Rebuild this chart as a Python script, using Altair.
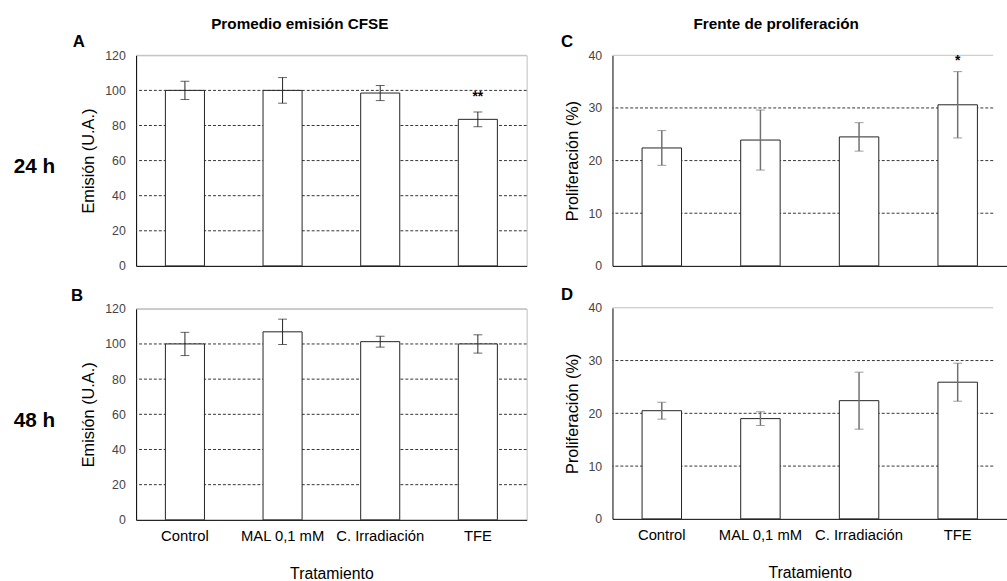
import altair as alt
import pandas as pd

categories = ["Control", "MAL 0,1 mM", "C. Irradiación", "TFE"]

emis_24 = [100, 100, 98.5, 83.5]
emis_24_err = [5.2, 7.3, 4.3, 4.2]
emis_24_sig = ["", "", "", "**"]
emis_24_sig_y = [0, 0, 0, 96]

emis_48 = [100, 106.9, 101.3, 100]
emis_48_err = [6.6, 7.2, 3.1, 5.2]
emis_48_sig = ["", "", "", ""]
emis_48_sig_y = [0, 0, 0, 0]

prol_24 = [22.4, 23.9, 24.5, 30.6]
prol_24_err = [3.3, 5.7, 2.7, 6.3]
prol_24_sig = ["", "", "", "*"]
prol_24_sig_y = [0, 0, 0, 38.9]

prol_48 = [20.5, 19.0, 22.4, 25.9]
prol_48_err = [1.6, 1.3, 5.4, 3.6]
prol_48_sig = ["", "", "", ""]
prol_48_sig_y = [0, 0, 0, 0]

emis_ticks = [0, 20, 40, 60, 80, 100, 120]
prol_ticks = [0, 10, 20, 30, 40]

col_titles = ["Promedio emisión CFSE", "Frente de proliferación"]
row_labels = ["24 h", "48 h"]
letters = ["A", "B", "C", "D"]
x_title = "Tratamiento"
y_titles = ["Emisión (U.A.)", "Proliferación (%)"]

FONT = "Liberation Sans"


def panel(vals, errs, sigs, sig_y, ticks, width, height, xrange, bottom,
          letter, letter_x, row_label, col_title, err_color, err_width,
          ytitle, right_border):
    df = pd.DataFrame({
        "cat": categories,
        "v": vals,
        "lo": [v - e for v, e in zip(vals, errs)],
        "hi": [v + e for v, e in zip(vals, errs)],
        "sig": sigs,
        "sig_y": sig_y,
    })
    caps = pd.DataFrame({
        "cat": categories + categories,
        "e": [v - e for v, e in zip(vals, errs)] + [v + e for v, e in zip(vals, errs)],
    })
    sargs = dict(domain=categories, paddingInner=0.6, paddingOuter=0.3)
    if xrange is not None:
        sargs["range"] = xrange
    xscale = alt.Scale(**sargs)
    if bottom:
        xaxis = alt.Axis(title=x_title, labelAngle=0, labelFontSize=15, labelColor="#000",
                         labelPadding=9, labelOverlap=False, ticks=False, tickSize=0,
                         domainColor="#000", titleFontSize=16, titleFontWeight="normal",
                         titleColor="#000", titlePadding=22)
    else:
        xaxis = alt.Axis(title=None, labels=False, ticks=False, tickSize=0, domainColor="#000")
    yscale = alt.Scale(domain=[ticks[0], ticks[-1]], nice=False, zero=True)
    yaxis = alt.Axis(values=ticks, grid=False, ticks=False, tickSize=0, domainColor="#000",
                     labelFontSize=12.5, labelColor="#444", labelPadding=11,
                     title=ytitle, titleFontSize=16.5, titleFontWeight="normal",
                     titleColor="#000", titlePadding=8)

    def X():
        return alt.X("cat:N", sort=categories, scale=xscale, axis=xaxis)

    def Y(field):
        return alt.Y(field, type="quantitative", scale=yscale, axis=yaxis)

    grid = alt.Chart(pd.DataFrame({"g": ticks[1:-1]})).mark_rule(
        color="#333", strokeDash=[3, 2], strokeWidth=1).encode(y=Y("g"))
    top = alt.Chart(pd.DataFrame({"g": [ticks[-1]]})).mark_rule(
        color="#c0c0c0", strokeWidth=1).encode(y=Y("g"))
    bars = alt.Chart(df).mark_bar(fill="#ffffff", stroke="#222", strokeWidth=1).encode(
        x=X(), y=Y("v"))
    err = alt.Chart(df).mark_rule(color=err_color, strokeWidth=err_width).encode(
        x=X(), y=Y("lo"), y2="hi")
    cap = alt.Chart(caps).mark_tick(color=err_color, size=9, thickness=1).encode(
        x=X(), y=Y("e"))
    star = alt.Chart(df).mark_text(fontSize=14, fontWeight="bold", color="#000",
                                   baseline="middle").encode(x=X(), y=Y("sig_y"), text="sig:N")

    annot = []
    annot.append(alt.Chart(pd.DataFrame({"t": [letter]})).mark_text(
        fontSize=17, fontWeight="bold", align="center", baseline="middle", color="#000").encode(
        x=alt.value(letter_x), y=alt.value(-13), text="t:N"))
    if row_label is not None:
        annot.append(alt.Chart(pd.DataFrame({"t": [row_label]})).mark_text(
            fontSize=21, fontWeight="bold", align="left", baseline="middle", color="#000").encode(
            x=alt.value(-124), y=alt.value(113.5), text="t:N"))
    if col_title is not None:
        annot.append(alt.Chart(pd.DataFrame({"t": [col_title]})).mark_text(
            fontSize=15.5, fontWeight="bold", align="center", baseline="middle", color="#000").encode(
            x=alt.value(166), y=alt.value(-32), text="t:N"))

    layers = [grid, top, bars, err, cap, star] + annot
    ch = alt.layer(*layers).properties(width=width, height=height)
    if not right_border:
        ch = ch.properties(view=alt.ViewBackground(strokeOpacity=0))
    return ch


A = panel(emis_24, emis_24_err, emis_24_sig, emis_24_sig_y, emis_ticks, 396, 213.5, None, False,
          letters[0], -58, row_labels[0], col_titles[0], "#222", 1, y_titles[0], True)
B = panel(emis_48, emis_48_err, emis_48_sig, emis_48_sig_y, emis_ticks, 396, 214, None, True,
          letters[1], -60, row_labels[1], None, "#222", 1, y_titles[0], True)
C = panel(prol_24, prol_24_err, prol_24_sig, prol_24_sig_y, prol_ticks, 386, 213.5, [0, 400], False,
          letters[2], -46, None, col_titles[1], "#707070", 1.5, y_titles[1], False)
D = panel(prol_48, prol_48_err, prol_48_sig, prol_48_sig_y, prol_ticks, 386, 214, [0, 400], True,
          letters[3], -46, None, None, "#707070", 1.5, y_titles[1], False)

chart = alt.hconcat(
    alt.vconcat(A, B, spacing=13),
    alt.vconcat(C, D, spacing=13),
    spacing=33,
).properties(
    padding={"left": 13, "top": 12, "right": 0, "bottom": 0}
).configure(font=FONT).configure_view(stroke="#c0c0c0")

chart.save("out.html", embed_options={"renderer": "svg", "actions": False})
